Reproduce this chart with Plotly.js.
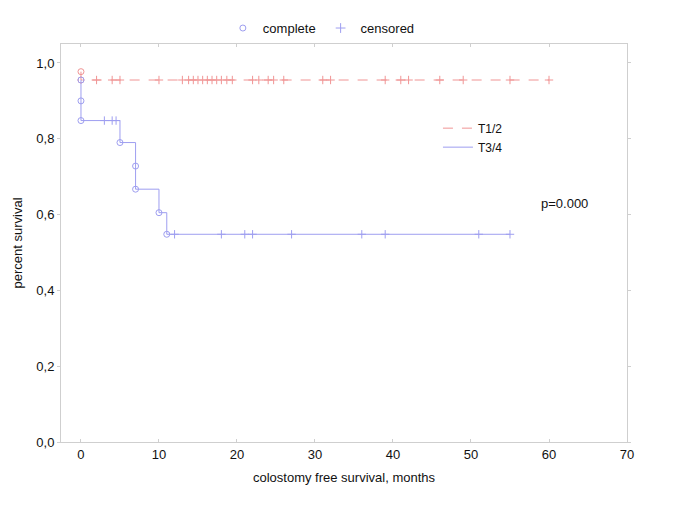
<!DOCTYPE html>
<html><head><meta charset="utf-8">
<script src="https://cdn.plot.ly/plotly-3.0.1.min.js"></script>
<style>body{margin:0;background:#fff}#chart{width:685px;height:505px}</style>
</head><body><div id="chart"></div>
<script>
// T1/2 group
const t12StepTime = [0, 0, 60];
const t12StepSurv = [0.977, 0.955, 0.955];
const t12EventTime = [0, 0];
const t12EventSurv = [0.977, 0.955];
const t12CensorTime = [2, 4, 5, 10, 13, 13.8, 14.4, 15, 15.6, 16.2, 16.8, 17.4, 18, 18.7, 19.4, 22, 22.8, 24, 24.7, 26, 31, 32, 39, 41, 42, 46, 49, 55, 60];
// T3/4 group
const t34StepTime = [0, 0, 0, 5, 7, 7, 10, 11, 55];
const t34StepSurv = [0.955, 0.90, 0.848, 0.79, 0.728, 0.667, 0.605, 0.548, 0.548];
const t34EventTime = [0, 0, 0, 5, 7, 7, 10, 11];
const t34EventSurv = [0.955, 0.90, 0.848, 0.79, 0.728, 0.667, 0.605, 0.548];
const t34CensorTime = [3, 4, 4.5, 12, 18, 21, 22, 27, 36, 39, 51, 55];
const xTicks = [0, 10, 20, 30, 40, 50, 60, 70];
const yTicks = [0, 0.2, 0.4, 0.6, 0.8, 1.0];

const redC = '#f09494', blueC = '#9e9ef0';

function survAt(times, survs, t) {
  let s = survs[0];
  for (let i = 0; i < times.length; i++) { if (times[i] <= t) s = survs[i]; }
  return s;
}

const traces = [
  {x: t12StepTime, y: t12StepSurv, mode: 'lines', line: {shape: 'hv', color: redC, width: 1, dash: '10px,9px'}, name: 'T1/2', legend: 'legend2'},
  {x: t34StepTime, y: t34StepSurv, mode: 'lines', line: {shape: 'hv', color: blueC, width: 1}, name: 'T3/4', legend: 'legend2'},
  {x: t12EventTime, y: t12EventSurv, mode: 'markers', marker: {symbol: 'circle-open', size: 6, color: redC, line: {width: 1}}, showlegend: false},
  {x: t34EventTime, y: t34EventSurv, mode: 'markers', marker: {symbol: 'circle-open', size: 6, color: blueC, line: {width: 1}}, showlegend: false},
  {x: t12CensorTime, y: t12CensorTime.map(t => survAt(t12StepTime, t12StepSurv, t)), mode: 'markers', marker: {symbol: 'cross-thin-open', size: 6, color: redC, line: {width: 1, color: redC}}, showlegend: false},
  {x: t34CensorTime, y: t34CensorTime.map(t => survAt(t34StepTime, t34StepSurv, t)), mode: 'markers', marker: {symbol: 'cross-thin-open', size: 6, color: blueC, line: {width: 1, color: blueC}}, showlegend: false},
  {x: [null], y: [null], mode: 'markers', marker: {symbol: 'circle-open', size: 6, color: blueC, line: {width: 1}}, name: 'complete', legend: 'legend'},
  {x: [null], y: [null], mode: 'markers', marker: {symbol: 'cross-thin-open', size: 7, color: blueC, line: {width: 1, color: blueC}}, name: 'censored', legend: 'legend'}
];

const fontF = 'Liberation Sans, Arial, sans-serif';
const layout = {
  width: 685, height: 505,
  margin: {l: 61, r: 58, t: 44, b: 63},
  paper_bgcolor: '#fff', plot_bgcolor: '#fff',
  font: {family: fontF, size: 13, color: '#111'},
  separators: ', ',
  showlegend: true,
  xaxis: {range: [-2.56, 70], tickvals: xTicks, showgrid: false, zeroline: false, showline: true, linecolor: '#cfcfcf', linewidth: 1, mirror: 'ticks', ticks: 'inside', ticklen: 3, tickcolor: '#cfcfcf',
    title: {text: 'colostomy free survival, months', font: {size: 13}, standoff: 12}},
  yaxis: {range: [0, 1.05], tickvals: yTicks, tickformat: '.1f', showgrid: false, zeroline: false, showline: true, linecolor: '#cfcfcf', linewidth: 1, mirror: 'ticks', ticks: 'outside', ticklen: 3, tickcolor: '#cfcfcf',
    title: {text: 'percent survival', font: {size: 13}, standoff: 10}},
  legend: {orientation: 'h', x: 0.46, xanchor: 'center', y: 1.04, yanchor: 'middle', font: {size: 13}, bgcolor: 'rgba(0,0,0,0)', itemwidth: 30},
  legend2: {x: 0.666, xanchor: 'left', y: 0.825, yanchor: 'top', font: {size: 12}, bgcolor: 'rgba(0,0,0,0)', tracegroupgap: 0, itemwidth: 30},
  annotations: [{x: 62, y: 0.63, xref: 'x', yref: 'y', text: 'p=0.000', showarrow: false, font: {size: 13}}]
};
Plotly.newPlot('chart', traces, layout, {displayModeBar: false, staticPlot: true});
</script></body></html>
